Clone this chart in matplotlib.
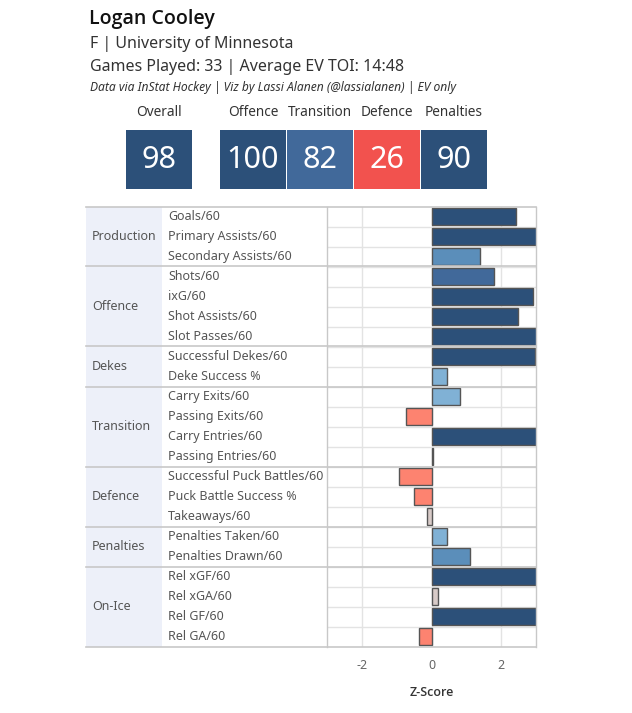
import matplotlib
matplotlib.use("Agg")
import matplotlib.pyplot as plt
from matplotlib.patches import Rectangle
from matplotlib.lines import Line2D

plt.rcParams['font.family'] = ['Noto Sans', 'DejaVu Sans']

W, H = 632, 713

player = "Logan Cooley"
subtitle = "F | University of Minnesota"
info = "Games Played: 33 | Average EV TOI: 14:48"
credit = "Data via InStat Hockey | Viz by Lassi Alanen (@lassialanen) | EV only"

score_labels = ["Overall", "Offence", "Transition", "Defence", "Penalties"]
score_values = [98, 100, 82, 26, 90]

groups = ["Production", "Offence", "Dekes", "Transition", "Defence", "Penalties", "On-Ice"]
group_sizes = [3, 4, 2, 4, 3, 2, 4]
metrics = ["Goals/60", "Primary Assists/60", "Secondary Assists/60",
           "Shots/60", "ixG/60", "Shot Assists/60", "Slot Passes/60",
           "Successful Dekes/60", "Deke Success %",
           "Carry Exits/60", "Passing Exits/60", "Carry Entries/60", "Passing Entries/60",
           "Successful Puck Battles/60", "Puck Battle Success %", "Takeaways/60",
           "Penalties Taken/60", "Penalties Drawn/60",
           "Rel xGF/60", "Rel xGA/60", "Rel GF/60", "Rel GA/60"]
zscores = [2.42, 3.4, 1.40,
           1.78, 2.90, 2.47, 3.3,
           2.95, 0.44,
           0.83, -0.74, 3.2, 0.05,
           -0.93, -0.49, -0.13,
           0.44, 1.11,
           3.2, 0.20, 3.3, -0.37]
xticks = [-2, 0, 2]


def bar_color(v):
    if v >= 2.0:
        return "#2c5079"
    if v >= 1.5:
        return "#41699a"
    if v >= 1.0:
        return "#5b8eba"
    if v >= 0.3:
        return "#80b1d5"
    if v > -0.3:
        return "#d8cbc8"
    return "#fd8370"


def score_color(s):
    if s >= 85:
        return "#2c5079"
    if s >= 60:
        return "#41699a"
    if s <= 35:
        return "#f2524e"
    return "#d8cbc8"


def fx(x):
    return x / W


def fy(y):
    return 1 - y / H


fig = plt.figure(figsize=(W / 100, H / 100), dpi=100)

# Header text
fig.text(fx(89), fy(19), player, fontsize=14, fontweight='semibold', family=['Open Sans', 'DejaVu Sans'],
         color='#111111', va='center', ha='left')
fig.text(fx(90), fy(44), subtitle, fontsize=11.5, color='#333333', va='center', ha='left')
fig.text(fx(90), fy(67), info, fontsize=11.5, color='#333333', va='center', ha='left')
fig.text(fx(90), fy(87), credit, fontsize=8.7, style='italic', color='#333333', va='center', ha='left')

# Score tiles
box_x = [126, 220, 287, 354, 421]
box_w = [66, 66, 66, 66, 66]
for lab, val, bx, bw in zip(score_labels, score_values, box_x, box_w):
    fig.text(fx(bx + bw / 2), fy(113), lab, fontsize=9.8, color='#333333', ha='center', va='center')
    r = Rectangle((fx(bx), fy(189)), fx(bw), 59 / H, transform=fig.transFigure,
                  facecolor=score_color(val), edgecolor='none')
    fig.patches.append(r)
    fig.text(fx(bx + bw / 2), fy(160), str(val), fontsize=22,
             color='white', ha='center', va='center')

# Geometry of table
top, bottom = 206.5, 646.5
tab_left, grp_right, lab_right, ch_right = 86, 162, 326.7, 536.3
n = len(metrics)

# Table axes (labels)
tax = fig.add_axes([fx(tab_left), fy(bottom), fx(lab_right - tab_left), (bottom - top) / H])
tax.set_xlim(tab_left, lab_right)
tax.set_ylim(n, 0)
tax.axis('off')
tax.add_patch(Rectangle((tab_left, 0), grp_right - tab_left, n, facecolor='#edf0f9', edgecolor='none'))
start = 0
for g, s in zip(groups, group_sizes):
    tax.text(tab_left + 6, start + s / 2, g, fontsize=9, color='#555555', va='center', ha='left')
    start += s
for i, m in enumerate(metrics):
    tax.text(grp_right + 6, i + 0.5, m, fontsize=9, color='#555555', va='center', ha='left')

# Chart axes
ax = fig.add_axes([fx(lab_right), fy(bottom), fx(ch_right - lab_right), (bottom - top) / H])
ax.set_xlim(-3, 3)
ax.set_ylim(n, 0)
for xt in xticks:
    ax.axvline(xt, color='#e3e3e3', lw=1, zorder=0)
for i in range(1, n):
    ax.axhline(i, color='#e3e3e3', lw=1, zorder=0)
ypos = [i + 0.5 for i in range(n)]
ax.barh(ypos, zscores, height=0.85, left=0, color=[bar_color(v) for v in zscores],
        edgecolor='#555555', linewidth=1, zorder=2)
ax.set_xticks(xticks)
ax.set_xticklabels([str(t) for t in xticks])
ax.set_yticks([])
ax.tick_params(axis='x', length=0, labelsize=9, labelcolor='#666666', pad=9)
for sp in ['top', 'bottom']:
    ax.spines[sp].set_visible(False)
for sp in ['left', 'right']:
    ax.spines[sp].set_color('#c8c8c8')
    ax.spines[sp].set_linewidth(1)
ax.set_xlabel("Z-Score", fontsize=9, color='#333333', labelpad=10, fontweight='semibold',
              family=['Open Sans', 'DejaVu Sans'])

# Group separator lines across full table
row_h = (bottom - top) / n
bounds = [0]
for s in group_sizes:
    bounds.append(bounds[-1] + s)
for b in bounds:
    y = top + b * row_h
    fig.lines.append(Line2D([fx(tab_left), fx(ch_right)], [fy(y), fy(y)], transform=fig.transFigure,
                            color='#c8c8c8', lw=1.2, zorder=5))

fig.savefig("out.png", dpi=100)
